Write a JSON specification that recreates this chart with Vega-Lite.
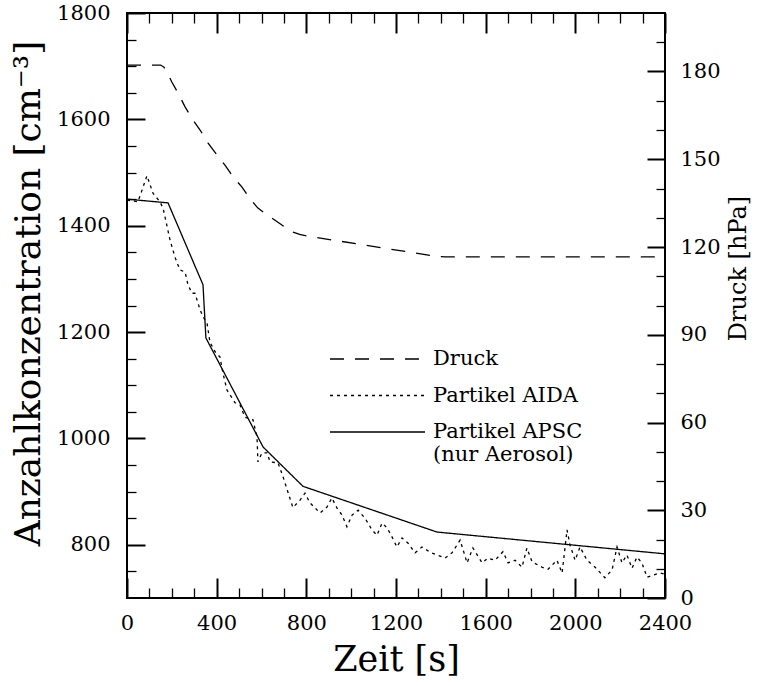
{
  "$schema": "https://vega.github.io/schema/vega-lite/v6.json",
  "width": 538,
  "height": 585,
  "autosize": {"type": "none"},
  "padding": {"left": 127, "top": 13, "right": 99, "bottom": 88},
  "background": "white",
  "config": {
    "view": {"stroke": "black", "strokeWidth": 2},
    "font": "DejaVu Serif",
    "axis": {
      "grid": false,
      "domain": false,
      "labelFont": "DejaVu Serif",
      "labelFontSize": 21,
      "labelColor": "black",
      "tickColor": "black",
      "titleFont": "DejaVu Serif",
      "titleColor": "black",
      "titleFontWeight": "normal",
      "labelFlush": false,
      "labelOverlap": false,
      "format": "d"
    }
  },
  "datasets": {
    "series": [
      {"series": "Druck", "t": 0, "value": 182.2},
      {"series": "Druck", "t": 150, "value": 182.2},
      {"series": "Druck", "t": 165, "value": 181.5},
      {"series": "Druck", "t": 180, "value": 179.5},
      {"series": "Druck", "t": 200, "value": 176.4},
      {"series": "Druck", "t": 228, "value": 172.6},
      {"series": "Druck", "t": 259, "value": 167.9},
      {"series": "Druck", "t": 294, "value": 163.4},
      {"series": "Druck", "t": 326, "value": 160.0},
      {"series": "Druck", "t": 361, "value": 155.6},
      {"series": "Druck", "t": 401, "value": 151.5},
      {"series": "Druck", "t": 437, "value": 148.0},
      {"series": "Druck", "t": 473, "value": 144.0},
      {"series": "Druck", "t": 513, "value": 140.5},
      {"series": "Druck", "t": 549, "value": 136.5},
      {"series": "Druck", "t": 584, "value": 133.3},
      {"series": "Druck", "t": 638, "value": 130.3},
      {"series": "Druck", "t": 691, "value": 127.5},
      {"series": "Druck", "t": 741, "value": 125.1},
      {"series": "Druck", "t": 770, "value": 124.3},
      {"series": "Druck", "t": 800, "value": 123.8},
      {"series": "Druck", "t": 1380, "value": 116.8},
      {"series": "Druck", "t": 1420, "value": 116.6},
      {"series": "Druck", "t": 2400, "value": 116.6},
      {"series": "Partikel APSC", "t": 0, "value": 1450},
      {"series": "Partikel APSC", "t": 183, "value": 1443},
      {"series": "Partikel APSC", "t": 339, "value": 1289},
      {"series": "Partikel APSC", "t": 352, "value": 1189},
      {"series": "Partikel APSC", "t": 607, "value": 984},
      {"series": "Partikel APSC", "t": 785, "value": 910},
      {"series": "Partikel APSC", "t": 1383, "value": 824},
      {"series": "Partikel APSC", "t": 2400, "value": 783},
      {"series": "Partikel AIDA", "t": 0, "value": 1448},
      {"series": "Partikel AIDA", "t": 49, "value": 1445},
      {"series": "Partikel AIDA", "t": 89, "value": 1494},
      {"series": "Partikel AIDA", "t": 116, "value": 1461},
      {"series": "Partikel AIDA", "t": 147, "value": 1445},
      {"series": "Partikel AIDA", "t": 161, "value": 1433},
      {"series": "Partikel AIDA", "t": 192, "value": 1373},
      {"series": "Partikel AIDA", "t": 214, "value": 1341},
      {"series": "Partikel AIDA", "t": 236, "value": 1317},
      {"series": "Partikel AIDA", "t": 259, "value": 1313},
      {"series": "Partikel AIDA", "t": 272, "value": 1289},
      {"series": "Partikel AIDA", "t": 290, "value": 1273},
      {"series": "Partikel AIDA", "t": 303, "value": 1273},
      {"series": "Partikel AIDA", "t": 326, "value": 1242},
      {"series": "Partikel AIDA", "t": 339, "value": 1229},
      {"series": "Partikel AIDA", "t": 357, "value": 1217},
      {"series": "Partikel AIDA", "t": 370, "value": 1181},
      {"series": "Partikel AIDA", "t": 393, "value": 1163},
      {"series": "Partikel AIDA", "t": 415, "value": 1153},
      {"series": "Partikel AIDA", "t": 428, "value": 1123},
      {"series": "Partikel AIDA", "t": 446, "value": 1091},
      {"series": "Partikel AIDA", "t": 482, "value": 1067},
      {"series": "Partikel AIDA", "t": 504, "value": 1063},
      {"series": "Partikel AIDA", "t": 526, "value": 1040},
      {"series": "Partikel AIDA", "t": 540, "value": 1038},
      {"series": "Partikel AIDA", "t": 562, "value": 1035},
      {"series": "Partikel AIDA", "t": 580, "value": 1003},
      {"series": "Partikel AIDA", "t": 584, "value": 956},
      {"series": "Partikel AIDA", "t": 602, "value": 973},
      {"series": "Partikel AIDA", "t": 625, "value": 973},
      {"series": "Partikel AIDA", "t": 638, "value": 956},
      {"series": "Partikel AIDA", "t": 674, "value": 954},
      {"series": "Partikel AIDA", "t": 696, "value": 928},
      {"series": "Partikel AIDA", "t": 740, "value": 870},
      {"series": "Partikel AIDA", "t": 772, "value": 884},
      {"series": "Partikel AIDA", "t": 794, "value": 897},
      {"series": "Partikel AIDA", "t": 816, "value": 879},
      {"series": "Partikel AIDA", "t": 861, "value": 860},
      {"series": "Partikel AIDA", "t": 892, "value": 871},
      {"series": "Partikel AIDA", "t": 914, "value": 888},
      {"series": "Partikel AIDA", "t": 937, "value": 869},
      {"series": "Partikel AIDA", "t": 959, "value": 856},
      {"series": "Partikel AIDA", "t": 981, "value": 834},
      {"series": "Partikel AIDA", "t": 1004, "value": 856},
      {"series": "Partikel AIDA", "t": 1031, "value": 865},
      {"series": "Partikel AIDA", "t": 1062, "value": 850},
      {"series": "Partikel AIDA", "t": 1093, "value": 828},
      {"series": "Partikel AIDA", "t": 1115, "value": 818},
      {"series": "Partikel AIDA", "t": 1138, "value": 841},
      {"series": "Partikel AIDA", "t": 1160, "value": 832},
      {"series": "Partikel AIDA", "t": 1182, "value": 815},
      {"series": "Partikel AIDA", "t": 1204, "value": 796},
      {"series": "Partikel AIDA", "t": 1227, "value": 813},
      {"series": "Partikel AIDA", "t": 1254, "value": 803},
      {"series": "Partikel AIDA", "t": 1285, "value": 785},
      {"series": "Partikel AIDA", "t": 1316, "value": 796},
      {"series": "Partikel AIDA", "t": 1352, "value": 786},
      {"series": "Partikel AIDA", "t": 1383, "value": 781},
      {"series": "Partikel AIDA", "t": 1419, "value": 775},
      {"series": "Partikel AIDA", "t": 1450, "value": 785},
      {"series": "Partikel AIDA", "t": 1486, "value": 809},
      {"series": "Partikel AIDA", "t": 1517, "value": 766},
      {"series": "Partikel AIDA", "t": 1543, "value": 794},
      {"series": "Partikel AIDA", "t": 1584, "value": 766},
      {"series": "Partikel AIDA", "t": 1610, "value": 775},
      {"series": "Partikel AIDA", "t": 1642, "value": 771},
      {"series": "Partikel AIDA", "t": 1677, "value": 787},
      {"series": "Partikel AIDA", "t": 1700, "value": 766},
      {"series": "Partikel AIDA", "t": 1731, "value": 771},
      {"series": "Partikel AIDA", "t": 1762, "value": 758},
      {"series": "Partikel AIDA", "t": 1784, "value": 794},
      {"series": "Partikel AIDA", "t": 1807, "value": 768},
      {"series": "Partikel AIDA", "t": 1851, "value": 758},
      {"series": "Partikel AIDA", "t": 1878, "value": 754},
      {"series": "Partikel AIDA", "t": 1918, "value": 771},
      {"series": "Partikel AIDA", "t": 1941, "value": 747},
      {"series": "Partikel AIDA", "t": 1963, "value": 828},
      {"series": "Partikel AIDA", "t": 1976, "value": 800},
      {"series": "Partikel AIDA", "t": 1999, "value": 771},
      {"series": "Partikel AIDA", "t": 2021, "value": 796},
      {"series": "Partikel AIDA", "t": 2052, "value": 771},
      {"series": "Partikel AIDA", "t": 2088, "value": 758},
      {"series": "Partikel AIDA", "t": 2132, "value": 738},
      {"series": "Partikel AIDA", "t": 2164, "value": 753},
      {"series": "Partikel AIDA", "t": 2186, "value": 796},
      {"series": "Partikel AIDA", "t": 2208, "value": 766},
      {"series": "Partikel AIDA", "t": 2230, "value": 781},
      {"series": "Partikel AIDA", "t": 2253, "value": 756},
      {"series": "Partikel AIDA", "t": 2275, "value": 777},
      {"series": "Partikel AIDA", "t": 2297, "value": 766},
      {"series": "Partikel AIDA", "t": 2320, "value": 739},
      {"series": "Partikel AIDA", "t": 2346, "value": 743},
      {"series": "Partikel AIDA", "t": 2378, "value": 747},
      {"series": "Partikel AIDA", "t": 2400, "value": 745}
    ]
  },
  "data": {"name": "series"},
  "resolve": {
    "scale": {"y": "independent"},
    "axis": {"x": "independent", "y": "independent"}
  },
  "layer": [
    {
      "transform": [{"filter": "datum.series != 'Druck'"}],
      "mark": {"type": "line", "color": "black", "strokeWidth": 1.3},
      "encoding": {
        "x": {
          "field": "t", "type": "quantitative",
          "scale": {"domain": [0, 2400], "nice": false, "zero": false},
          "axis": {
            "orient": "bottom",
            "values": [0, 400, 800, 1200, 1600, 2000, 2400],
            "tickSize": -20, "tickWidth": 2, "labelPadding": 34,
            "title": "Zeit [s]", "titleFontSize": 35,
            "titleX": 269, "titleY": 61, "titleBaseline": "middle", "titleAlign": "center"
          }
        },
        "y": {
          "field": "value", "type": "quantitative",
          "scale": {"domain": [700, 1800], "nice": false, "zero": false},
          "axis": {
            "orient": "left",
            "values": [800, 1000, 1200, 1400, 1600, 1800],
            "tickSize": -18, "tickWidth": 2, "labelPadding": 35,
            "title": "Anzahlkonzentration [cm⁻³]", "titleFontSize": 36,
            "titleAngle": 270, "titleX": -99, "titleY": 280,
            "titleBaseline": "middle", "titleAlign": "center"
          }
        },
        "detail": {"field": "series"},
        "strokeDash": {
          "field": "series", "type": "nominal",
          "scale": {
            "domain": ["Druck", "Partikel AIDA", "Partikel APSC"],
            "range": [[14, 11], [3, 4], [1, 0]]
          },
          "legend": {
            "orient": "none", "legendX": 240, "legendY": 335.5,
            "title": null, "padding": 0,
            "symbolType": "M-5,0H5", "symbolSize": 361,
            "symbolStrokeWidth": 1.3, "symbolStrokeColor": "black",
            "labelFont": "DejaVu Serif", "labelFontSize": 21, "labelColor": "black",
            "labelOffset": 45, "rowPadding": 14.5, "labelBaseline": "middle", "labelLimit": 300,
            "labelExpr": "datum.label == 'Partikel APSC' ? ['Partikel APSC', '(nur Aerosol)'] : datum.label"
          }
        }
      }
    },
    {
      "transform": [{"filter": "datum.series == 'Druck'"}],
      "mark": {"type": "line", "color": "black", "strokeWidth": 1.3},
      "encoding": {
        "x": {"field": "t", "type": "quantitative", "axis": null},
        "y": {
          "field": "value", "type": "quantitative",
          "scale": {"domain": [0, 200], "nice": false, "zero": false},
          "axis": {
            "orient": "right",
            "values": [0, 30, 60, 90, 120, 150, 180],
            "tickSize": -18, "tickWidth": 2, "labelPadding": 33,
            "title": "Druck [hPa]", "titleFontSize": 24,
            "titleAngle": 270, "titleX": 73, "titleY": 255,
            "titleBaseline": "middle", "titleAlign": "center"
          }
        },
        "strokeDash": {
          "field": "series", "type": "nominal",
          "scale": {
            "domain": ["Druck", "Partikel AIDA", "Partikel APSC"],
            "range": [[14, 11], [3, 4], [1, 0]]
          },
          "legend": {
            "orient": "none", "legendX": 240, "legendY": 335.5,
            "title": null, "padding": 0,
            "symbolType": "M-5,0H5", "symbolSize": 361,
            "symbolStrokeWidth": 1.3, "symbolStrokeColor": "black",
            "labelFont": "DejaVu Serif", "labelFontSize": 21, "labelColor": "black",
            "labelOffset": 45, "rowPadding": 14.5, "labelBaseline": "middle", "labelLimit": 300,
            "labelExpr": "datum.label == 'Partikel APSC' ? ['Partikel APSC', '(nur Aerosol)'] : datum.label"
          }
        }
      }
    },
    {
      "transform": [{"filter": "datum.series == 'Partikel APSC'"}],
      "mark": {"type": "line", "opacity": 0},
      "encoding": {
        "x": {
          "field": "t", "type": "quantitative",
          "axis": {
            "orient": "bottom", "labels": false, "title": null,
            "values": [100, 200, 300, 500, 600, 700, 900, 1000, 1100, 1300, 1400, 1500, 1700, 1800, 1900, 2100, 2200, 2300],
            "tickSize": -10, "tickWidth": 1.3
          }
        },
        "y": {
          "field": "value", "type": "quantitative",
          "scale": {"domain": [700, 1800], "nice": false, "zero": false},
          "axis": {
            "orient": "left", "labels": false, "title": null,
            "values": [750, 850, 900, 950, 1050, 1100, 1150, 1250, 1300, 1350, 1450, 1500, 1550, 1650, 1700, 1750],
            "tickSize": -9, "tickWidth": 1.3
          }
        }
      }
    },
    {
      "transform": [{"filter": "datum.series == 'Druck'"}],
      "mark": {"type": "line", "opacity": 0},
      "encoding": {
        "x": {
          "field": "t", "type": "quantitative",
          "axis": {
            "orient": "top", "labels": false, "title": null,
            "values": [0, 400, 800, 1200, 1600, 2000, 2400],
            "tickSize": -20, "tickWidth": 2
          }
        },
        "y": {
          "field": "value", "type": "quantitative",
          "scale": {"domain": [0, 200], "nice": false, "zero": false},
          "axis": {
            "orient": "right", "labels": false, "title": null,
            "values": [10, 20, 40, 50, 70, 80, 100, 110, 130, 140, 160, 170, 190],
            "tickSize": -9, "tickWidth": 1.3
          }
        }
      }
    },
    {
      "transform": [{"filter": "datum.series == 'Druck'"}],
      "mark": {"type": "line", "opacity": 0},
      "encoding": {
        "x": {
          "field": "t", "type": "quantitative",
          "axis": {
            "orient": "top", "labels": false, "title": null,
            "values": [100, 200, 300, 500, 600, 700, 900, 1000, 1100, 1300, 1400, 1500, 1700, 1800, 1900, 2100, 2200, 2300],
            "tickSize": -10, "tickWidth": 1.3
          }
        },
        "y": {
          "field": "value", "type": "quantitative",
          "scale": {"domain": [0, 200], "nice": false, "zero": false},
          "axis": null
        }
      }
    }
  ]
}
